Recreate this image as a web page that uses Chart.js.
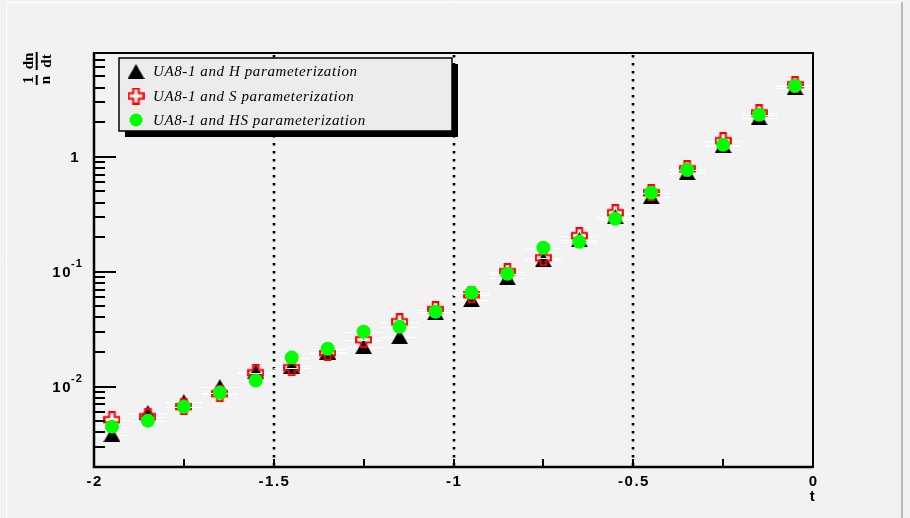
<!DOCTYPE html>
<html>
<head>
<meta charset="utf-8">
<script src="https://cdn.jsdelivr.net/npm/chart.js@4.4.0/dist/chart.umd.min.js"></script>
<style>
  html, body { margin: 0; padding: 0; background: #f2f2f2; }
  #wrap { width: 910px; height: 518px; }
</style>
</head>
<body>
<div id="wrap"><canvas id="c" width="910" height="518"></canvas></div>
<script>
// |t| bin centres (GeV^2) and the normalised distributions 1/n dn/dt
const tValues  = [-1.95, -1.85, -1.75, -1.65, -1.55, -1.45, -1.35, -1.25, -1.15, -1.05,
                  -0.95, -0.85, -0.75, -0.65, -0.55, -0.45, -0.35, -0.25, -0.15, -0.05];
const hValues  = [0.00383, 0.00594, 0.00741, 0.0100, 0.0135, 0.0150, 0.0200, 0.0223, 0.0272, 0.0440,
                  0.0571, 0.0887, 0.127, 0.190, 0.301, 0.449, 0.726, 1.25, 2.18, 3.98];
const sValues  = [0.00516, 0.00548, 0.00670, 0.00869, 0.0132, 0.0146, 0.0198, 0.0256, 0.0367, 0.0468,
                  0.0631, 0.100, 0.132, 0.206, 0.326, 0.486, 0.787, 1.38, 2.41, 4.23];
const hsValues = [0.00449, 0.00506, 0.00670, 0.00887, 0.0113, 0.0179, 0.0214, 0.0301, 0.0332, 0.0449,
                  0.0657, 0.0961, 0.162, 0.182, 0.289, 0.486, 0.770, 1.27, 2.32, 4.14];
const seriesNames = ['UA8-1 and H parameterization', 'UA8-1 and S parameterization', 'UA8-1 and HS parameterization'];
const tHalfBin = 0.05;

// axis ranges and tick labels
const xRange = [-2, 0];
const yRange = [0.002, 8];
const xTickValues = [-2, -1.5, -1, -0.5, 0];
const xTickLabels = ['-2', '-1.5', '-1', '-0.5', '0'];
const xMinorStep = 0.25;
const yLabelValues = [1, 0.1, 0.01];
const yLabelExponents = [0, -1, -2];
const dottedCuts = [-1.5, -1, -0.5];

// marker images
function triangleMarker() {
  const c = document.createElement('canvas');
  c.width = 17; c.height = 15;
  const g = c.getContext('2d');
  g.fillStyle = '#000';
  g.beginPath();
  g.moveTo(8.5, 0); g.lineTo(17, 15); g.lineTo(0, 15);
  g.closePath(); g.fill();
  return c;
}
function openCrossMarker() {
  const c = document.createElement('canvas');
  c.width = 17; c.height = 17;
  const g = c.getContext('2d');
  const m = 8.5, a = 2.8, L = 7.4;
  g.strokeStyle = '#ff0000';
  g.lineWidth = 2;
  g.beginPath();
  const pts = [[m-a,m-L],[m+a,m-L],[m+a,m-a],[m+L,m-a],[m+L,m+a],[m+a,m+a],
               [m+a,m+L],[m-a,m+L],[m-a,m+a],[m-L,m+a],[m-L,m-a],[m-a,m-a]];
  pts.forEach((p, i) => i ? g.lineTo(p[0], p[1]) : g.moveTo(p[0], p[1]));
  g.closePath(); g.stroke();
  return c;
}
const triImg = triangleMarker();
const crossImg = openCrossMarker();

const toPoints = vals => tValues.map((t, i) => ({ x: t, y: vals[i] }));

const rootStyle = {
  id: 'rootStyle',
  beforeDraw(chart) {
    const ctx = chart.ctx;
    ctx.save();
    ctx.fillStyle = '#f2f2f2';
    ctx.fillRect(0, 0, chart.width, chart.height);
    // canvas bevel
    ctx.strokeStyle = '#ffffff';
    ctx.lineWidth = 1;
    ctx.beginPath();
    ctx.moveTo(6.5, 518); ctx.lineTo(6.5, 2.5); ctx.lineTo(901, 2.5);
    ctx.stroke();
    ctx.fillStyle = '#b8b8b8';
    ctx.fillRect(901, 2, 2, 516);
    ctx.restore();
  },
  beforeDatasetsDraw(chart) {
    const ctx = chart.ctx, xs = chart.scales.x, a = chart.chartArea;
    ctx.save();
    ctx.strokeStyle = '#000';
    ctx.lineWidth = 2.6;
    ctx.setLineDash([2.6, 5.4]);
    dottedCuts.forEach(v => {
      const px = Math.round(xs.getPixelForValue(v));
      ctx.beginPath();
      ctx.moveTo(px, a.top + 2);
      ctx.lineTo(px, a.bottom);
      ctx.stroke();
    });
    ctx.restore();
  },
  beforeDatasetDraw(chart, args) {
    // horizontal bin-width bars of each series, under its own markers
    const ctx = chart.ctx, xs = chart.scales.x, ys = chart.scales.y;
    const ds = chart.data.datasets[args.index];
    ctx.save();
    ctx.strokeStyle = '#ffffff';
    ctx.lineWidth = 1;
    ds.data.forEach(p => {
      const y = Math.round(ys.getPixelForValue(p.y)) + 0.5;
      ctx.beginPath();
      ctx.moveTo(xs.getPixelForValue(p.x - tHalfBin), y);
      ctx.lineTo(xs.getPixelForValue(p.x + tHalfBin), y);
      ctx.stroke();
    });
    ctx.restore();
  },
  afterDatasetsDraw(chart) {
    const ctx = chart.ctx, xs = chart.scales.x, ys = chart.scales.y, a = chart.chartArea;
    ctx.save();
    ctx.strokeStyle = '#000';
    ctx.fillStyle = '#000';

    // frame
    ctx.lineWidth = 2;
    ctx.strokeRect(a.left, a.top, a.right - a.left, a.bottom - a.top);
    ctx.lineWidth = 2.5;
    ctx.beginPath();
    ctx.moveTo(a.left, a.top); ctx.lineTo(a.left, a.bottom); ctx.lineTo(a.right, a.bottom);
    ctx.stroke();

    // y ticks (log decades, pointing into the frame)
    ctx.lineWidth = 2;
    for (let k = -3; k <= 1; k++) {
      for (let m = 1; m <= 9; m++) {
        const v = m * Math.pow(10, k);
        if (v <= yRange[0] * 1.01 || v >= yRange[1] * 0.99) continue;
        const py = Math.round(ys.getPixelForValue(v));
        const len = m === 1 ? 22 : 11;
        ctx.beginPath();
        ctx.moveTo(a.left, py);
        ctx.lineTo(a.left + len, py);
        ctx.stroke();
      }
    }
    // x ticks
    ctx.lineWidth = 2;
    for (let v = xRange[0] + xMinorStep; v < xRange[1] - 1e-9; v += xMinorStep) {
      const px = Math.round(xs.getPixelForValue(v));
      ctx.beginPath();
      ctx.moveTo(px, a.bottom);
      ctx.lineTo(px, a.bottom - 8);
      ctx.stroke();
    }

    // x labels
    ctx.font = 'bold 15px "Liberation Sans", Arial, sans-serif';
    ctx.letterSpacing = '1.5px';
    ctx.textAlign = 'center';
    ctx.textBaseline = 'middle';
    xTickValues.forEach((v, i) => {
      ctx.fillText(xTickLabels[i], xs.getPixelForValue(v) + 0.75, a.bottom + 15);
    });
    // axis title
    ctx.fillText('t', a.right, a.bottom + 30);

    // y labels with superscript exponents
    yLabelValues.forEach((v, i) => {
      const py = ys.getPixelForValue(v);
      const e = yLabelExponents[i];
      ctx.textBaseline = 'middle';
      if (e === 0) {
        ctx.font = 'bold 15px "Liberation Sans", Arial, sans-serif';
        ctx.textAlign = 'right';
        ctx.fillText('1', 80, py + 1);
      } else {
        ctx.font = 'bold 15px "Liberation Sans", Arial, sans-serif';
        ctx.textAlign = 'right';
        ctx.fillText('10', 72, py + 1);
        ctx.font = 'bold 11px "Liberation Sans", Arial, sans-serif';
        ctx.letterSpacing = '1px';
        ctx.textAlign = 'left';
        ctx.fillText(String(e), 71, py - 8);
        ctx.letterSpacing = '1.5px';
      }
    });
    ctx.letterSpacing = '0px';

    // y axis title: 1/n dn/dt, rotated
    ctx.save();
    ctx.translate(37, 70);
    ctx.rotate(-Math.PI / 2);
    ctx.font = 'bold 15px "Liberation Serif", serif';
    ctx.textAlign = 'center';
    ctx.textBaseline = 'alphabetic';
    ctx.fillText('1', -10, -4);
    ctx.fillText('n', -10, 13);
    ctx.fillRect(-15, -1.3, 10, 2);
    ctx.fillText('dn', 9, -4);
    ctx.fillText('dt', 9, 14);
    ctx.fillRect(0, -1.3, 18, 2);
    ctx.restore();

    // legend box with drop shadow
    const L = { x: 119, y: 58, w: 333, h: 73 };
    ctx.fillStyle = '#000';
    ctx.fillRect(L.x + 6, L.y + 6, L.w, L.h);
    ctx.fillStyle = '#ececec';
    ctx.fillRect(L.x, L.y, L.w, L.h);
    ctx.strokeStyle = '#000';
    ctx.lineWidth = 1.5;
    ctx.strokeRect(L.x, L.y, L.w, L.h);
    const rows = [71.5, 96, 120];
    ctx.drawImage(triImg, 136 - triImg.width / 2, rows[0] - triImg.height / 2);
    ctx.drawImage(crossImg, 136 - crossImg.width / 2, rows[1] - crossImg.height / 2);
    ctx.fillStyle = '#00ff00';
    ctx.beginPath();
    ctx.arc(136, rows[2], 6.5, 0, Math.PI * 2);
    ctx.fill();
    ctx.fillStyle = '#000';
    ctx.font = 'italic 15px "Liberation Serif", "Times New Roman", serif';
    ctx.letterSpacing = '0.6px';
    ctx.textAlign = 'left';
    ctx.textBaseline = 'middle';
    seriesNames.forEach((s, i) => ctx.fillText(s, 153, rows[i] + 1));
    ctx.restore();
  }
};

new Chart(document.getElementById('c'), {
  type: 'scatter',
  data: {
    datasets: [
      { label: seriesNames[0], data: toPoints(hValues), pointStyle: triImg, pointRadius: 7, order: 3 },
      { label: seriesNames[1], data: toPoints(sValues), pointStyle: crossImg, pointRadius: 7, order: 2 },
      { label: seriesNames[2], data: toPoints(hsValues), pointStyle: 'circle', pointRadius: 7,
        backgroundColor: '#00ff00', borderColor: '#00ff00', borderWidth: 0, order: 1 }
    ]
  },
  options: {
    responsive: false,
    animation: false,
    layout: { padding: { left: 94, top: 53, right: 97, bottom: 51 } },
    scales: {
      x: { type: 'linear', min: xRange[0], max: xRange[1], display: false },
      y: { type: 'logarithmic', min: yRange[0], max: yRange[1], display: false }
    },
    plugins: {
      legend: { display: false },
      tooltip: { enabled: false }
    },
    events: []
  },
  plugins: [rootStyle]
});
</script>
</body>
</html>
